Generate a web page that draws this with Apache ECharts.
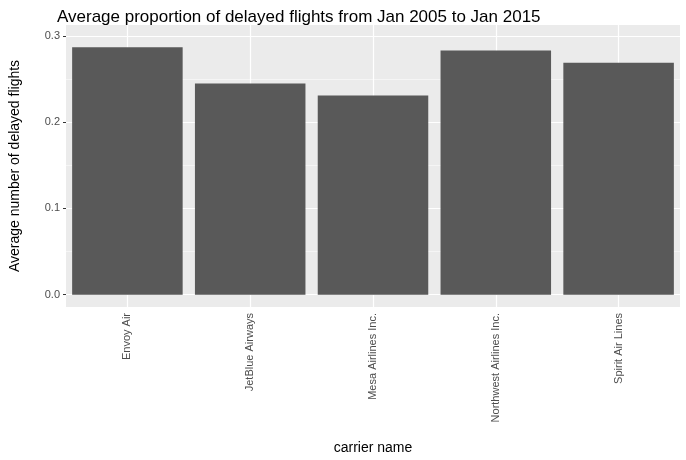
<!DOCTYPE html>
<html>
<head>
<meta charset="utf-8">
<script src="https://cdn.jsdelivr.net/npm/echarts@6/dist/echarts.min.js"></script>
<style>body{margin:0}#c{width:686px;height:460px}</style>
</head>
<body>
<div id="c"></div>
<script>
// carriers and their average delayed proportion
let carriers = ['Envoy Air', 'JetBlue Airways', 'Mesa Airlines Inc.', 'Northwest Airlines Inc.', 'Spirit Air Lines']
let delayValues = [0.287, 0.245, 0.231, 0.283, 0.269]
let majorTicks = [0, 0.1, 0.2, 0.3]
let minorTicks = [0.05, 0.15, 0.25]

let chart = echarts.init(document.getElementById('c'))

let gridLines = []
majorTicks.forEach(v => gridLines.push({ yAxis: v, lineStyle: { color: '#fff', width: 1.2, type: 'solid' } }))
minorTicks.forEach(v => gridLines.push({ yAxis: v, lineStyle: { color: '#fff', width: 0.5, type: 'solid' } }))
carriers.forEach(c => gridLines.push({ xAxis: c, lineStyle: { color: '#fff', width: 1.2, type: 'solid' } }))

chart.setOption({
    animation: false,
    backgroundColor: '#fff',
    title: {
        text: 'Average proportion of delayed flights from Jan 2005 to Jan 2015',
        left: 52, top: 4,
        textStyle: { fontFamily: 'Liberation Sans', fontWeight: 'normal', fontSize: 17, color: '#000' }
    },
    grid: { left: 60, right: 6, top: 25, bottom: 152, show: true, backgroundColor: '#ebebeb', borderWidth: 0 },
    xAxis: {
        type: 'category',
        data: carriers,
        name: 'carrier name',
        nameLocation: 'middle',
        nameGap: 134,
        nameTextStyle: { fontFamily: 'Liberation Sans', fontSize: 14, color: '#000' },
        axisLine: { show: false },
        axisTick: { alignWithLabel: true, length: 3, lineStyle: { color: '#333' } },
        axisLabel: { rotate: 90, fontFamily: 'Liberation Sans', fontSize: 11, color: '#4d4d4d', margin: 6 },
        splitLine: { show: false }
    },
    yAxis: {
        type: 'value',
        min: -0.0143,
        max: 0.3127,
        name: 'Average number of delayed flights',
        nameLocation: 'middle',
        nameGap: 44,
        nameTextStyle: { fontFamily: 'Liberation Sans', fontSize: 14, color: '#000' },
        axisLine: { show: false },
        axisTick: { show: true, length: 3, customValues: majorTicks, lineStyle: { color: '#333' } },
        axisLabel: { customValues: majorTicks, fontFamily: 'Liberation Sans', fontSize: 11, color: '#4d4d4d', margin: 6,
            formatter: v => v.toFixed(1) },
        splitLine: { show: false }
    },
    series: [{
        type: 'bar',
        data: delayValues,
        barCategoryGap: '10%',
        itemStyle: { color: '#595959' },
        z: 3,
        markLine: { silent: true, symbol: 'none', label: { show: false }, data: gridLines, z: 1 }
    }]
})
</script>
</body>
</html>
